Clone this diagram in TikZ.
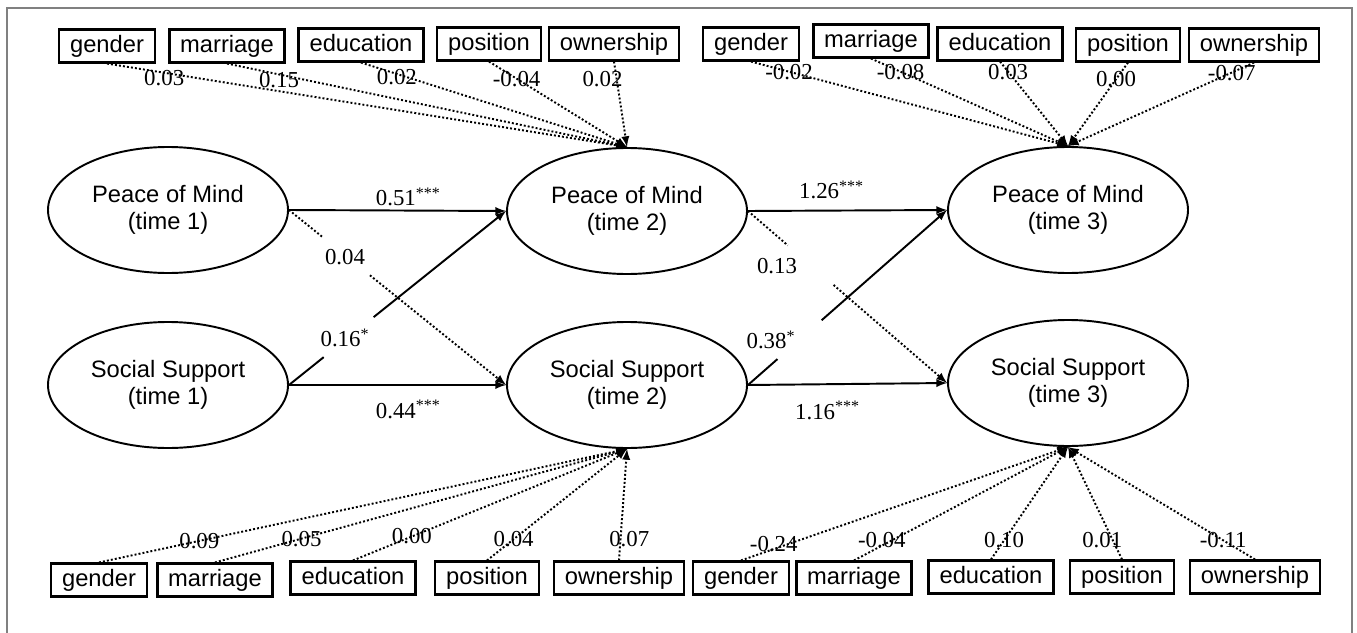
\documentclass[tikz,border=0pt]{standalone}
\usepackage{fontspec}
\setmainfont{Liberation Serif}
\setsansfont{Liberation Sans}
\usetikzlibrary{shapes.geometric,calc}
\tikzstyle{latent}=[ellipse,draw,line width=1.1pt,minimum width=48mm,minimum height=25.2mm,align=center,inner sep=0pt,font=\sffamily\fontsize{13.5pt}{15.5pt}\selectfont]
\tikzstyle{obs}=[rectangle,draw,line width=1.5pt,minimum height=6.5mm,inner xsep=2.2mm,inner ysep=0pt,text height=10pt,text depth=3pt,font=\sffamily\fontsize{13.5pt}{15pt}\selectfont]
\tikzstyle{coef}=[inner sep=1pt,font=\fontsize{13pt}{15pt}\selectfont]
\tikzstyle{reg}=[->,line width=1.1pt]
\tikzstyle{cov}=[->,line width=1.1pt,dash pattern=on 1.1pt off 1.2pt]
\tikzstyle{frame}=[gray,line width=0.8pt]

\begin{document}
\begin{tikzpicture}[x=0.2mm,y=-0.2mm,>=latex]
\useasboundingbox (0,0) rectangle (1357,633);
\draw[frame] (7,633) -- (7,8) -- (1352,8) -- (1352,633);

\node[latent] at (168,210) (pm1) {Peace of Mind\\(time 1)};
\node[latent] at (168,385) (ss1) {Social Support\\(time 1)};
\node[latent] at (627,211) (pm2) {Peace of Mind\\(time 2)};
\node[latent] at (627,385) (ss2) {Social Support\\(time 2)};
\node[latent] at (1068,210) (pm3) {Peace of Mind\\(time 3)};
\node[latent] at (1068,383) (ss3) {Social Support\\(time 3)};

% controls, top row
\node[obs] at (107,46) (tlg) {gender};
\node[obs] at (227,46) (tlm) {marriage};
\node[obs] at (361,45) (tle) {education};
\node[obs] at (489,44) (tlp) {position};
\node[obs] at (614,44) (tlo) {ownership};
\node[obs] at (751,44) (trg) {gender};
\node[obs] at (871,41) (trm) {marriage};
\node[obs] at (1000,44) (tre) {education};
\node[obs] at (1128,45) (trp) {position};
\node[obs] at (1254,45) (tro) {ownership};

% controls, bottom row
\node[obs] at (99,580) (blg) {gender};
\node[obs] at (215,580) (blm) {marriage};
\node[obs] at (353,578) (ble) {education};
\node[obs] at (487,578) (blp) {position};
\node[obs] at (619,578) (blo) {ownership};
\node[obs] at (741,578) (brg) {gender};
\node[obs] at (854,578) (brm) {marriage};
\node[obs] at (991,577) (bre) {education};
\node[obs] at (1122,577) (brp) {position};
\node[obs] at (1255,577) (bro) {ownership};

% paths time 1 -> time 2
\draw[reg] (pm1.east) -- node[coef,pos=.55,above=1pt] {0.51\textsuperscript{***}} (pm2.west);
\draw[reg] (ss1.east) -- node[coef,pos=.55,below=7pt] {0.44\textsuperscript{***}} (ss2.west);
\draw[reg,-] (ss1.east) -- ($(ss1.east)!.16!(pm2.west)$);
\draw[reg] ($(ss1.east)!.39!(pm2.west)$) -- (pm2.west);
\node[coef] (l16) at (345,338) {0.16\textsuperscript{*}};
\draw[cov,-] (pm1.east) -- ($(pm1.east)!.155!(ss2.west)$);
\draw[cov] ($(pm1.east)!.373!(ss2.west)$) -- (ss2.west);
\node[coef] (l04) at (345,257) {0.04};

% paths time 2 -> time 3
\draw[reg] (pm2.east) -- node[coef,pos=.42,above=5pt] {1.26\textsuperscript{***}} (pm3.west);
\draw[reg] (ss2.east) -- node[coef,pos=.4,below=8pt] {1.16\textsuperscript{***}} (ss3.west);
\draw[reg,-] (ss2.east) -- ($(ss2.east)!.148!(pm3.west)$);
\draw[reg] ($(ss2.east)!.37!(pm3.west)$) -- (pm3.west);
\node[coef] (l38) at (771,340) {0.38\textsuperscript{*}};
\draw[cov,-] (pm2.east) -- ($(pm2.east)!.2!(ss3.west)$);
\draw[cov] ($(pm2.east)!.43!(ss3.west)$) -- (ss3.west);
\node[coef] (l13) at (777,266) {0.13};

% control effects
\draw[cov] (tlg.south) -- node[coef,pos=.11,yshift=-3pt] {0.03} (pm2.north);
\draw[cov] (tlm.south) -- node[coef,pos=.13,yshift=-3pt] {0.15} (pm2.north);
\draw[cov] (tle.south) -- node[coef,pos=.135,yshift=-2pt] {0.02} (pm2.north);
\draw[cov] (tlp.south) -- node[coef,pos=.2] {-0.04} (pm2.north);
\draw[cov] (tlo.south) -- node[coef,pos=.2,xshift=-8pt] {0.02} (pm2.north);

\draw[cov] (trg.south) -- node[coef,pos=.12] {-0.02} (pm3.north);
\draw[cov] (trm.south) -- node[coef,pos=.15] {-0.08} (pm3.north);
\draw[cov] (tre.south) -- node[coef,pos=.12] {0.03} (pm3.north);
\draw[cov] (trp.south) -- node[coef,pos=.2] {0.00} (pm3.north);
\draw[cov] (tro.south) -- node[coef,pos=.12] {-0.07} (pm3.north);

\draw[cov] (blg.north) -- node[coef,pos=.19] {0.09} (ss2.south);
\draw[cov] (blm.north) -- node[coef,pos=.21] {0.05} (ss2.south);
\draw[cov] (ble.north) -- node[coef,pos=.215] {0.00} (ss2.south);
\draw[cov] (blp.north) -- node[coef,pos=.19] {0.04} (ss2.south);
\draw[cov] (blo.north) -- node[coef,pos=.19,xshift=5pt] {0.07} (ss2.south);

\draw[cov] (brg.north) -- node[coef,pos=.1,yshift=3pt] {-0.24} (ss3.south);
\draw[cov] (brm.north) -- node[coef,pos=.13,yshift=3pt] {-0.04} (ss3.south);
\draw[cov] (bre.north) -- node[coef,pos=.17] {0.10} (ss3.south);
\draw[cov] (brp.north) -- node[coef,pos=.17,xshift=-6pt] {0.01} (ss3.south);
\draw[cov] (bro.north) -- node[coef,pos=.17] {-0.11} (ss3.south);

\end{tikzpicture}
\end{document}
